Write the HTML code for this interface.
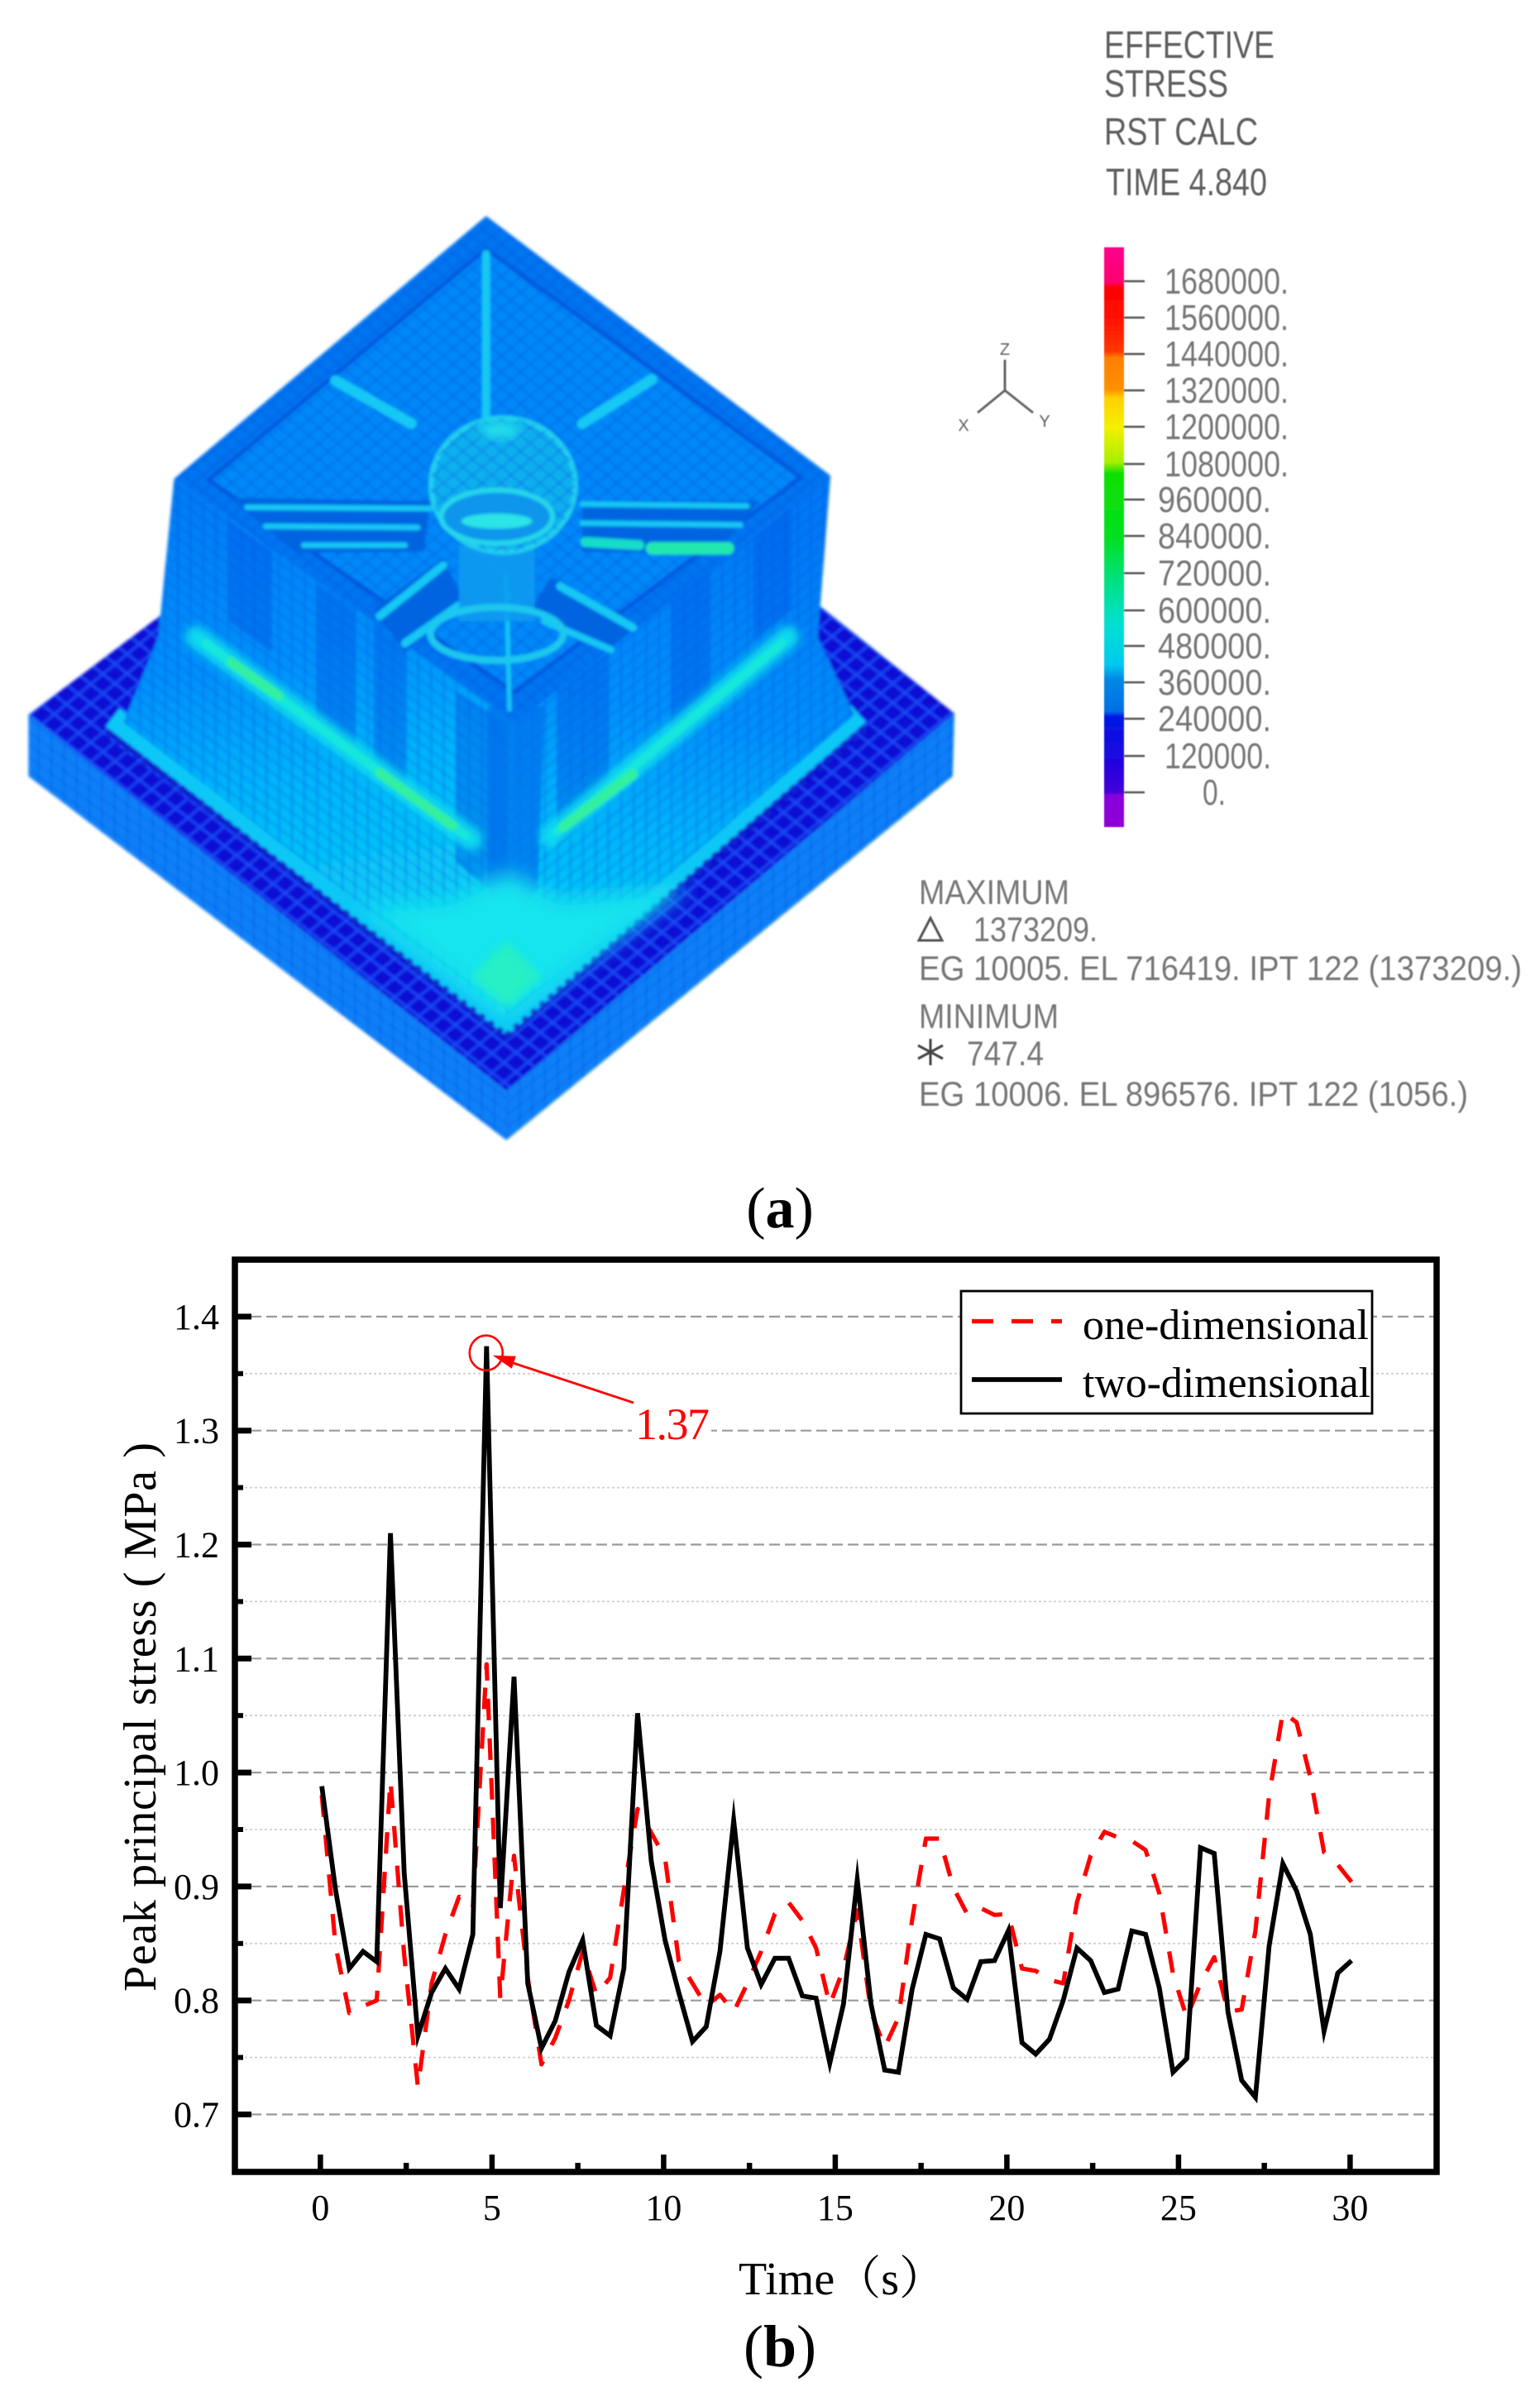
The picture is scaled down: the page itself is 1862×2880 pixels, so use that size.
<!DOCTYPE html>
<html lang="en">
<head>
<meta charset="utf-8">
<title>Effective stress contour and peak principal stress chart</title>
<style>
html,body{margin:0;padding:0;background:#fff;}
body{width:1862px;height:2880px;overflow:hidden;}
svg{display:block;}
.fea-text{font-family:"Liberation Sans",sans-serif;fill:#5f5f5f;}
.serif{font-family:"Liberation Serif","Noto Serif CJK SC",serif;}
</style>
</head>
<body>
<svg id="figure" xmlns="http://www.w3.org/2000/svg" width="1862" height="2880" viewBox="0 0 1862 2880">
<defs>
  <filter id="soft" x="-5%" y="-5%" width="110%" height="110%"><feGaussianBlur stdDeviation="2.6"/></filter>
  <filter id="softer" x="-30%" y="-30%" width="160%" height="160%"><feGaussianBlur stdDeviation="16"/></filter>
  <filter id="glow" x="-20%" y="-20%" width="140%" height="140%"><feGaussianBlur stdDeviation="7"/></filter>
  <filter id="txt" x="-5%" y="-30%" width="110%" height="160%"><feGaussianBlur stdDeviation="0.65"/></filter>
  <pattern id="meshTop" width="24" height="24" patternUnits="userSpaceOnUse" patternTransform="matrix(.8 .62 .8 -.66 45 868)">
    <path d="M0 0H24M0 0V24" stroke="#1e50ff" stroke-width="6" fill="none"/>
  </pattern>
  <pattern id="meshInner" width="19" height="19" patternUnits="userSpaceOnUse" patternTransform="matrix(.8 .66 .8 -.66 0 0)">
    <path d="M0 0H19M0 0V19" stroke="#0056e0" stroke-width="4" fill="none" opacity=".6"/>
  </pattern>
  <pattern id="meshL" width="20" height="20" patternUnits="userSpaceOnUse" patternTransform="matrix(1 .74 0 1 0 0)">
    <path d="M0 0H20M0 0V20" stroke="#0050e0" stroke-width="4.5" fill="none" opacity=".5"/>
  </pattern>
  <pattern id="meshR" width="20" height="20" patternUnits="userSpaceOnUse" patternTransform="matrix(1 -.8 0 1 0 0)">
    <path d="M0 0H20M0 0V20" stroke="#0050e0" stroke-width="4.5" fill="none" opacity=".5"/>
  </pattern>
  <linearGradient id="wallL" x1="0" y1="0" x2=".12" y2="1">
    <stop offset="0" stop-color="#0078f4"/><stop offset=".38" stop-color="#0090fa"/><stop offset=".6" stop-color="#00b4fa"/><stop offset="1" stop-color="#10d8f4"/>
  </linearGradient>
  <linearGradient id="wallR" x1="0" y1="0" x2="-.12" y2="1">
    <stop offset="0" stop-color="#0078f4"/><stop offset=".38" stop-color="#0090fa"/><stop offset=".6" stop-color="#00b4fa"/><stop offset="1" stop-color="#10d8f4"/>
  </linearGradient>
  <linearGradient id="cbar" x1="0" y1="0" x2="0" y2="1">
    <stop offset="0" stop-color="#ff008c"/><stop offset=".06" stop-color="#ff0070"/><stop offset=".07" stop-color="#ff0000"/>
    <stop offset=".12" stop-color="#ff1000"/><stop offset=".18" stop-color="#ff3800"/><stop offset=".19" stop-color="#ff8000"/>
    <stop offset=".245" stop-color="#ff9000"/><stop offset=".26" stop-color="#ffd000"/><stop offset=".31" stop-color="#f4f000"/>
    <stop offset=".37" stop-color="#a8f000"/><stop offset=".39" stop-color="#10e000"/><stop offset=".5" stop-color="#00e020"/>
    <stop offset=".58" stop-color="#00e088"/><stop offset=".65" stop-color="#00e0d0"/><stop offset=".72" stop-color="#00c8ee"/>
    <stop offset=".745" stop-color="#0088e4"/><stop offset=".8" stop-color="#0070e4"/><stop offset=".81" stop-color="#0018e4"/>
    <stop offset=".87" stop-color="#1808e0"/><stop offset=".94" stop-color="#4400d8"/><stop offset=".945" stop-color="#8800dc"/><stop offset="1" stop-color="#9000d8"/>
  </linearGradient>
</defs>
<rect width="1862" height="2880" fill="#fff"/>

<!-- panel (a): finite element contour picture -->
<g transform="translate(0,200) scale(.7653)" filter="url(#soft)">
  <g>
    <polygon points="45,868 800,1462 1508,866 800,300" fill="#0c0cd4"/>
    <polygon points="45,868 800,1462 1508,866 800,300" fill="url(#meshTop)"/>
    <polygon points="45,868 800,1462 800,1540 45,965" fill="#0880f8"/>
    <polygon points="45,868 800,1462 800,1540 45,965" fill="url(#meshL)"/>
    <polygon points="800,1462 1508,866 1505,965 800,1540" fill="#0880f8"/>
    <polygon points="800,1462 1508,866 1505,965 800,1540" fill="url(#meshR)"/>
  </g>
  <g fill="none">
    <polyline points="178,872 800,1352 1356,866" stroke="#10c8f6" stroke-width="36"/>
    <polyline points="170,896 800,1376 1374,882" stroke="#0828c8" stroke-width="12" stroke-dasharray="9 9"/>
    <polyline points="205,868 800,1332 1336,856" stroke="#0a5ad8" stroke-width="10" stroke-dasharray="9 9"/>
  </g>
  <g>
    <polygon points="275,495 815,880 800,1345 195,880 250,745" fill="url(#wallL)"/>
    <polygon points="275,495 815,880 800,1345 195,880 250,745" fill="url(#meshL)"/>
    <polygon points="1312,490 815,880 800,1345 1350,868 1292,745" fill="url(#wallR)"/>
    <polygon points="1312,490 815,880 800,1345 1350,868 1292,745" fill="url(#meshR)"/>
    <g fill="#0060e8" opacity=".5">
      <polygon points="360,560 430,610 430,770 360,720"/>
      <polygon points="500,660 560,700 560,930 500,880"/>
      <polygon points="590,720 640,760 640,1000 590,960"/>
      <polygon points="720,830 800,880 800,1170 720,1100"/>
      <polygon points="880,830 960,770 960,1000 880,1080"/>
      <polygon points="1060,690 1120,640 1120,850 1060,900"/>
      <polygon points="1190,590 1250,540 1250,700 1190,750"/>
    </g>
    <polygon points="770,855 860,855 850,1140 800,1220 770,1140" fill="#0070ec" opacity=".75"/>
    <polygon points="570,1170 715,1160 790,1120 810,1120 885,1160 1090,1140 800,1345" fill="#14e4ee" filter="url(#softer)"/>
    <polygon points="745,1282 800,1225 855,1282 800,1330" fill="#26f0c4" filter="url(#glow)"/>
    <g fill="none" stroke-linecap="round" filter="url(#glow)">
      <line x1="310" y1="745" x2="745" y2="1065" stroke="#10dcee" stroke-width="34"/>
      <line x1="870" y1="1060" x2="1245" y2="745" stroke="#10dcee" stroke-width="34"/>
    </g>
    <g fill="none" stroke-linecap="round">
      <line x1="325" y1="755" x2="735" y2="1058" stroke="#18e6dc" stroke-width="14"/>
      <line x1="880" y1="1052" x2="1235" y2="755" stroke="#18e6dc" stroke-width="14"/>
      <line x1="365" y1="785" x2="440" y2="838" stroke="#30f0a0" stroke-width="16"/>
      <line x1="600" y1="960" x2="715" y2="1043" stroke="#30f0a0" stroke-width="16"/>
      <line x1="890" y1="1045" x2="1000" y2="962" stroke="#30f0a0" stroke-width="16"/>
    </g>
  </g>
  <g>
    <polygon points="768,80 275,495 815,880 1312,490" fill="#0074f0"/>
    <polygon points="768,80 275,495 815,880 1312,490" fill="url(#meshInner)"/>
    <polygon points="768,132 330,497 812,832 1265,493" fill="#0088f8" stroke="#0054dc" stroke-width="6"/>
    <polygon points="768,132 330,497 812,832 1265,493" fill="url(#meshInner)"/>
    <g fill="#0064e0">
      <polygon points="365,525 680,530 670,610 470,612"/>
      <polygon points="920,530 1200,530 1130,615 920,610"/>
      <polygon points="590,700 700,620 735,690 640,770"/>
      <polygon points="870,650 1000,725 960,770 840,700"/>
    </g>
    <g fill="none" stroke="#14c8f4" stroke-linecap="round">
      <line x1="768" y1="140" x2="768" y2="405" stroke-width="13"/>
      <line x1="530" y1="340" x2="650" y2="408" stroke-width="17"/>
      <line x1="1030" y1="338" x2="920" y2="408" stroke-width="17"/>
      <line x1="390" y1="540" x2="680" y2="542" stroke-width="9"/>
      <line x1="420" y1="570" x2="660" y2="572" stroke-width="9"/>
      <line x1="480" y1="600" x2="640" y2="600" stroke-width="9"/>
      <line x1="920" y1="535" x2="1180" y2="538" stroke-width="9"/>
      <line x1="920" y1="565" x2="1170" y2="568" stroke-width="9"/>
      <line x1="600" y1="712" x2="700" y2="632" stroke-width="13"/>
      <line x1="640" y1="755" x2="725" y2="695" stroke-width="13"/>
      <line x1="885" y1="665" x2="1000" y2="730" stroke-width="13"/>
      <line x1="860" y1="720" x2="965" y2="765" stroke-width="11"/>
      <line x1="800" y1="650" x2="805" y2="860" stroke-width="7"/>
      <line x1="925" y1="595" x2="1010" y2="600" stroke="#14dcc8" stroke-width="16"/>
      <line x1="1030" y1="605" x2="1150" y2="605" stroke="#20e8b0" stroke-width="20"/>
    </g>
    <g>
      <rect x="725" y="600" width="120" height="120" fill="#0f9cf0" opacity=".85"/>
      <ellipse cx="785" cy="740" rx="105" ry="42" fill="none" stroke="#1cc8ee" stroke-width="11"/>
      <ellipse cx="795" cy="505" rx="114" ry="106" fill="#10b0ee" stroke="#20d0ee" stroke-width="8"/>
      <ellipse cx="795" cy="505" rx="114" ry="106" fill="url(#meshInner)"/>
      <ellipse cx="785" cy="555" rx="88" ry="42" fill="#1096ec" stroke="#26d8ea" stroke-width="8"/>
      <ellipse cx="785" cy="562" rx="56" ry="12" fill="#2ce4e6"/>
      <ellipse cx="790" cy="418" rx="32" ry="14" fill="#20dcea" filter="url(#glow)"/>
    </g>
  </g>
</g>

<g class="fea-text" font-size="46" filter="url(#txt)">
  <text x="1335" y="70" textLength="206" lengthAdjust="spacingAndGlyphs">EFFECTIVE</text>
  <text x="1335" y="117" textLength="150" lengthAdjust="spacingAndGlyphs">STRESS</text>
  <text x="1335" y="175" textLength="186" lengthAdjust="spacingAndGlyphs">RST CALC</text>
  <text x="1337" y="236" textLength="195" lengthAdjust="spacingAndGlyphs">TIME 4.840</text>
</g>

<g filter="url(#txt)">
  <path d="M1215 435V472M1215 472L1182 499M1215 472L1249 499" stroke="#666" stroke-width="3" fill="none"/>
  <text class="fea-text" x="1215" y="429" font-size="20" text-anchor="middle">Z</text>
  <text class="fea-text" x="1165" y="521" font-size="20" text-anchor="middle">X</text>
  <text class="fea-text" x="1263" y="516" font-size="20" text-anchor="middle">Y</text>
</g>

<g>
  <rect x="1335" y="299" width="24" height="701" fill="url(#cbar)" filter="url(#txt)"/>
  <g id="cbarTicks" stroke="#555" stroke-width="2.5" filter="url(#txt)">
    <path d="M1359 340H1384M1359 384H1384M1359 428H1384M1359 472H1384M1359 516H1384M1359 561H1384M1359 604H1384M1359 648H1384M1359 693H1384M1359 738H1384M1359 781H1384M1359 825H1384M1359 869H1384M1359 914H1384M1359 958H1384" fill="none"/>
  </g>
  <g class="fea-text" font-size="44" filter="url(#txt)" fill-opacity=".85">
    <text x="1408" y="355" textLength="150" lengthAdjust="spacingAndGlyphs">1680000.</text>
    <text x="1408" y="399" textLength="150" lengthAdjust="spacingAndGlyphs">1560000.</text>
    <text x="1408" y="443" textLength="150" lengthAdjust="spacingAndGlyphs">1440000.</text>
    <text x="1408" y="487" textLength="150" lengthAdjust="spacingAndGlyphs">1320000.</text>
    <text x="1408" y="531" textLength="150" lengthAdjust="spacingAndGlyphs">1200000.</text>
    <text x="1408" y="576" textLength="150" lengthAdjust="spacingAndGlyphs">1080000.</text>
    <text x="1400" y="619" textLength="137" lengthAdjust="spacingAndGlyphs">960000.</text>
    <text x="1400" y="663" textLength="137" lengthAdjust="spacingAndGlyphs">840000.</text>
    <text x="1400" y="708" textLength="137" lengthAdjust="spacingAndGlyphs">720000.</text>
    <text x="1400" y="753" textLength="137" lengthAdjust="spacingAndGlyphs">600000.</text>
    <text x="1400" y="796" textLength="137" lengthAdjust="spacingAndGlyphs">480000.</text>
    <text x="1400" y="840" textLength="137" lengthAdjust="spacingAndGlyphs">360000.</text>
    <text x="1400" y="884" textLength="137" lengthAdjust="spacingAndGlyphs">240000.</text>
    <text x="1408" y="929" textLength="129" lengthAdjust="spacingAndGlyphs">120000.</text>
    <text x="1454" y="973" textLength="28" lengthAdjust="spacingAndGlyphs">0.</text>
  </g>
</g>

<g class="fea-text" font-size="42" filter="url(#txt)" fill-opacity=".85">
  <text x="1111" y="1093" textLength="182" lengthAdjust="spacingAndGlyphs">MAXIMUM</text>
  <path d="M1125 1110L1139 1137H1111Z" fill="none" stroke="#555" stroke-width="3"/>
  <text x="1177" y="1138" textLength="150" lengthAdjust="spacingAndGlyphs">1373209.</text>
  <text x="1111" y="1185" textLength="729" lengthAdjust="spacingAndGlyphs">EG 10005. EL 716419. IPT 122 (1373209.)</text>
  <text x="1111" y="1243" textLength="169" lengthAdjust="spacingAndGlyphs">MINIMUM</text>
  <path d="M1125 1256V1288M1110 1264L1140 1280M1110 1280L1140 1264" stroke="#444" stroke-width="3" fill="none"/>
  <text x="1169" y="1288" textLength="93" lengthAdjust="spacingAndGlyphs">747.4</text>
  <text x="1111" y="1337" textLength="664" lengthAdjust="spacingAndGlyphs">EG 10006. EL 896576. IPT 122 (1056.)</text>
</g>

<text class="serif" x="943" y="1484" font-size="70" text-anchor="middle">(<tspan font-weight="bold">a</tspan>)</text>

<!-- panel (b): line chart, drawn by the script below -->
<g id="chart"></g>

<text class="serif" x="943" y="2861" font-size="72" text-anchor="middle">(<tspan font-weight="bold">b</tspan>)</text>
</svg>

<script>
const timeValues = [0.04,0.44,0.84,1.24,1.64,2.04,2.44,2.84,3.24,3.64,4.04,4.44,4.84,5.24,5.64,6.04,6.44,6.84,7.24,7.64,8.04,8.44,8.84,9.24,9.64,10.04,10.44,10.84,11.24,11.64,12.04,12.44,12.84,13.24,13.64,14.04,14.44,14.84,15.24,15.64,16.04,16.44,16.84,17.24,17.64,18.04,18.44,18.84,19.24,19.64,20.04,20.44,20.84,21.24,21.64,22.04,22.44,22.84,23.24,23.64,24.04,24.44,24.84,25.24,25.64,26.04,26.44,26.84,27.24,27.64,28.04,28.44,28.84,29.24,29.64,30.04];
const oneDimensional = [0.98,0.848,0.789,0.795,0.80,0.993,0.84,0.724,0.815,0.858,0.891,0.881,1.095,0.802,0.927,0.82,0.744,0.767,0.80,0.843,0.805,0.82,0.897,0.968,0.947,0.925,0.835,0.815,0.795,0.805,0.79,0.815,0.843,0.876,0.886,0.87,0.846,0.796,0.828,0.879,0.79,0.759,0.785,0.871,0.942,0.942,0.899,0.876,0.881,0.875,0.876,0.828,0.826,0.818,0.815,0.886,0.927,0.948,0.943,0.94,0.932,0.894,0.823,0.785,0.815,0.838,0.79,0.792,0.861,0.98,1.053,1.044,0.996,0.93,0.919,0.904];
const twoDimensional = [0.988,0.897,0.828,0.843,0.834,1.21,0.912,0.769,0.807,0.828,0.81,0.858,1.374,0.881,1.084,0.815,0.758,0.782,0.825,0.853,0.778,0.769,0.828,1.052,0.922,0.853,0.807,0.764,0.777,0.843,0.958,0.846,0.814,0.837,0.837,0.804,0.802,0.745,0.797,0.906,0.797,0.739,0.737,0.81,0.858,0.854,0.811,0.801,0.834,0.835,0.861,0.763,0.753,0.766,0.80,0.846,0.835,0.807,0.81,0.861,0.858,0.811,0.737,0.749,0.934,0.929,0.79,0.73,0.715,0.848,0.92,0.896,0.858,0.773,0.824,0.835];
const xMajorTicks = [0,5,10,15,20,25,30];
const xMinorTicks = [2.5,7.5,12.5,17.5,22.5,27.5];
const yMajorTicks = [0.7,0.8,0.9,1.0,1.1,1.2,1.3,1.4];
const yMinorTicks = [0.75,0.85,0.95,1.05,1.15,1.25,1.35];
const peakTime = 4.84;
const peakValue = 1.374;
const peakLabel = "1.37";
const seriesNames = ["one-dimensional","two-dimensional"];

const NS = "http://www.w3.org/2000/svg";
const chart = document.getElementById("chart");
const frame = {left:284, right:1737, top:1523, bottom:2626};
function xScale(t){ return 387.4 + (t - 0) * 41.5; }
function yScale(v){ return 2556.5 - (v - 0.7) * 1378; }
function make(tag, attrs, parent){
  const el = document.createElementNS(NS, tag);
  for (const k in attrs) el.setAttribute(k, attrs[k]);
  (parent || chart).appendChild(el);
  return el;
}
function pointsOf(values){
  return values.map(function(v,i){ return xScale(timeValues[i]).toFixed(1) + "," + yScale(v).toFixed(1); }).join(" ");
}

const gridLayer = make("g", {});


yMinorTicks.forEach(function(v){
  const line = make("line", {x1:frame.left, x2:frame.right, y1:yScale(v), y2:yScale(v), stroke:"#cfcfcf", "stroke-width":1.8, "stroke-dasharray":"3 3"}, gridLayer);
  
  
});
yMajorTicks.forEach(function(v){
  const line = make("line", {x1:frame.left, x2:frame.right, y1:yScale(v), y2:yScale(v), stroke:"#9a9a9a", "stroke-width":2.2, "stroke-dasharray":"13 6"}, gridLayer);
  
  
});

const yTickLayer = make("g", {});


yMajorTicks.forEach(function(v){
  const tick = make("line", {x1:frame.left, x2:304, y1:yScale(v), y2:yScale(v), stroke:"#000", "stroke-width":7}, yTickLayer);
  
  
  const label = make("text", {x:265, y:yScale(v)+15, "text-anchor":"end", "font-size":44, "class":"serif", fill:"#000"}, yTickLayer);
  
  
  label.textContent = v.toFixed(1);
});
yMinorTicks.forEach(function(v){
  const tick = make("line", {x1:frame.left, x2:294, y1:yScale(v), y2:yScale(v), stroke:"#000", "stroke-width":6}, yTickLayer);
  
  
});

const xTickLayer = make("g", {});


xMajorTicks.forEach(function(t){
  const tick = make("line", {x1:xScale(t), x2:xScale(t), y1:frame.bottom, y2:2605, stroke:"#000", "stroke-width":6.5}, xTickLayer);
  
  
  const label = make("text", {x:xScale(t), y:2684, "text-anchor":"middle", "font-size":44, "class":"serif", fill:"#000"}, xTickLayer);
  
  
  label.textContent = String(t);
});
xMinorTicks.forEach(function(t){
  const tick = make("line", {x1:xScale(t), x2:xScale(t), y1:frame.bottom, y2:2615, stroke:"#000", "stroke-width":6.5}, xTickLayer);
  
  
});

const redLine = make("polyline", {points:pointsOf(oneDimensional), fill:"none", stroke:"#ff0000", "stroke-width":5.2, "stroke-dasharray":"26 22", "stroke-linejoin":"round"});


const blackLine = make("polyline", {points:pointsOf(twoDimensional), fill:"none", stroke:"#000", "stroke-width":5.8, "stroke-linejoin":"miter", "stroke-miterlimit":12});



const labelBg = make("rect", {x:764, y:1700, width:96, height:46, fill:"#fff"});


const peakX = xScale(peakTime), peakY = yScale(peakValue);
const peakCircle = make("ellipse", {cx:peakX-0.5, cy:peakY+8, rx:20, ry:21, fill:"none", stroke:"#ff0000", "stroke-width":2.6});


const tipX = peakX+7.5, tipY = peakY+11;
const peakArrow = make("line", {x1:766, y1:1696, x2:tipX+24, y2:tipY+9, stroke:"#ff0000", "stroke-width":2.8});


const peakHead = make("polygon", {points:tipX+","+tipY+" "+(tipX+28)+","+(tipY+1)+" "+(tipX+23)+","+(tipY+16), fill:"#ff0000"});


const peakText = make("text", {x:768, y:1740, "font-size":54, "class":"serif", fill:"#ff0000", textLength:90});


peakText.textContent = peakLabel;

const legend = make("g", {});


const legendBox = make("rect", {x:1162, y:1561, width:497, height:148, fill:"#fff", stroke:"#000", "stroke-width":2.8}, legend);


const legendDash = make("line", {x1:1175, x2:1284, y1:1597.5, y2:1597.5, stroke:"#ff0000", "stroke-width":5.2, "stroke-dasharray":"26 22"}, legend);


const legendSolid = make("line", {x1:1175, x2:1284, y1:1668, y2:1668, stroke:"#000", "stroke-width":5.8}, legend);


const legendOne = make("text", {x:1309, y:1619, "font-size":52, "class":"serif", fill:"#000", textLength:346}, legend);


legendOne.textContent = seriesNames[0];
const legendTwo = make("text", {x:1309, y:1689, "font-size":52, "class":"serif", fill:"#000", textLength:348}, legend);


legendTwo.textContent = seriesNames[1];

const plotFrame = make("rect", {x:frame.left, y:frame.top, width:frame.right-frame.left, height:frame.bottom-frame.top, fill:"none", stroke:"#000", "stroke-width":7.5});



const xTitle = make("text", {x:893, y:2774, "font-size":56, "class":"serif", fill:"#000"});


xTitle.textContent = "Time（s）";
const yTitle = make("text", {transform:"translate(188,2076) rotate(-90)", "text-anchor":"middle", "font-size":56, "class":"serif", fill:"#000", textLength:664});


yTitle.textContent = "Peak principal stress ( MPa )";
</script>
</body>
</html>
